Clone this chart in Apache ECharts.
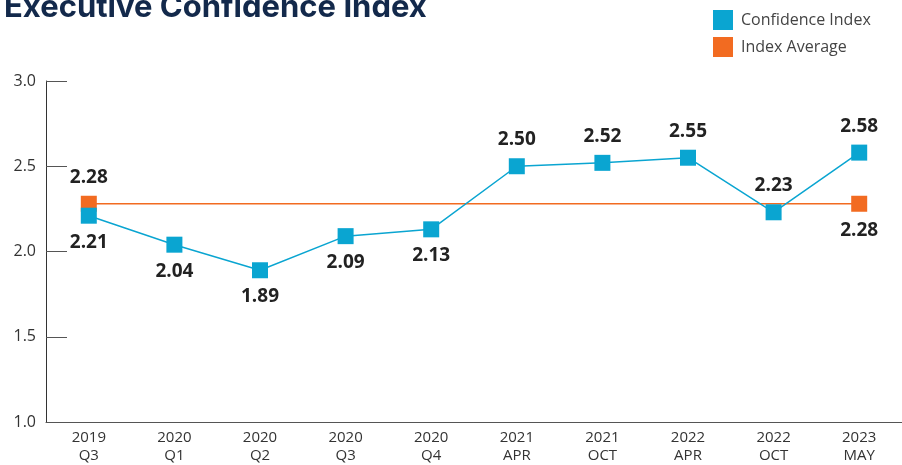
<!DOCTYPE html>
<html>
<head>
<meta charset="utf-8">
<script src="https://cdn.jsdelivr.net/npm/echarts@6/dist/echarts.min.js"></script>
<style>
  html, body { margin: 0; padding: 0; background: #fff; }
  #chart { width: 902px; height: 465px; }
</style>
</head>
<body>
<div id="chart"></div>
<script>
// categories on the x axis (two lines each)
var categories = ['2019\nQ3', '2020\nQ1', '2020\nQ2', '2020\nQ3', '2020\nQ4',
  '2021\nAPR', '2021\nOCT', '2022\nAPR', '2022\nOCT', '2023\nMAY'];
// confidence index values
var confidenceValues = [2.21, 2.04, 1.89, 2.09, 2.13, 2.50, 2.52, 2.55, 2.23, 2.58];
// where each confidence label sits
var confidenceLabelPos = ['bottom', 'bottom', 'bottom', 'bottom', 'bottom', 'top', 'top', 'top', 'top', 'top'];
// index average (flat line)
var averageValues = [2.28, 2.28, 2.28, 2.28, 2.28, 2.28, 2.28, 2.28, 2.28, 2.28];

var blue = '#0aa5d1';
var orange = '#f26b21';
var font = '"Open Sans", Lato, sans-serif';

var chart = echarts.init(document.getElementById('chart'));

var confData = confidenceValues.map(function (v, i) {
  return { value: v, label: { position: confidenceLabelPos[i] } };
});
var avgData = averageValues.map(function (v, i) {
  var last = averageValues.length - 1;
  if (i === 0) return { value: v, label: { show: true, position: 'top' } };
  if (i === last) return { value: v, label: { show: true, position: 'bottom' } };
  return { value: v, symbol: 'none', label: { show: false } };
});

var labelStyle = {
  fontFamily: font,
  fontSize: 19,
  fontWeight: 'bold',
  color: '#222',
  distance: 9,
  formatter: function (p) { return p.value.toFixed(2); }
};

chart.setOption({
  animation: false,
  title: {
    text: 'Executive Confidence Index',
    left: -1,
    top: -13,
    textStyle: {
      fontFamily: 'Inter, "Open Sans", sans-serif',
      fontSize: 31,
      fontWeight: 'bold',
      color: '#13294b'
    }
  },
  legend: {
    orient: 'vertical',
    left: 713,
    top: 10,
    padding: 0,
    itemWidth: 20,
    itemHeight: 20,
    itemGap: 7,
    icon: 'rect',
    textStyle: {
      fontFamily: font,
      fontSize: 16,
      color: '#444',
      padding: [0, 0, 0, 3]
    },
    data: ['Confidence Index', 'Index Average']
  },
  grid: {
    left: 46,
    top: 81,
    width: 860,
    height: 342
  },
  xAxis: {
    type: 'category',
    data: categories,
    boundaryGap: true,
    axisLine: { lineStyle: { color: '#555', width: 1 } },
    axisTick: { inside: true, length: 5, lineStyle: { color: '#555' } },
    axisLabel: {
      fontFamily: font,
      fontSize: 15,
      color: '#333',
      lineHeight: 18,
      margin: 7
    }
  },
  yAxis: {
    type: 'value',
    min: 1.0,
    max: 3.0,
    interval: 0.5,
    axisLine: { show: true, lineStyle: { color: '#333', width: 1 } },
    axisTick: { show: true, inside: true, length: 21, lineStyle: { color: '#555' } },
    splitLine: { show: false },
    axisLabel: {
      fontFamily: font,
      fontSize: 16,
      color: '#333',
      margin: 10,
      formatter: function (v) { return v.toFixed(1); }
    }
  },
  series: [
    {
      name: 'Index Average',
      type: 'line',
      data: avgData,
      symbol: 'rect',
      symbolSize: 16,
      lineStyle: { color: orange, width: 1.5 },
      itemStyle: { color: orange },
      label: labelStyle,
      z: 2
    },
    {
      name: 'Confidence Index',
      type: 'line',
      data: confData,
      symbol: 'rect',
      symbolSize: 16,
      lineStyle: { color: blue, width: 1.5 },
      itemStyle: { color: blue },
      label: Object.assign({ show: true }, labelStyle),
      z: 3
    }
  ]
});
</script>
</body>
</html>
